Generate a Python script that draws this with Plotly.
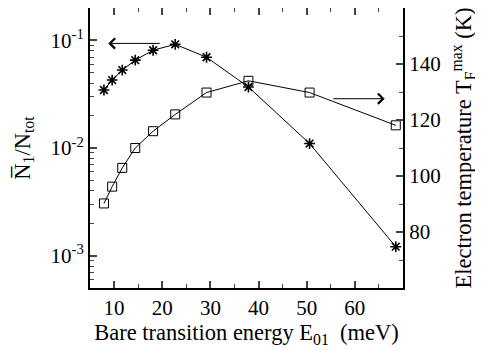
import plotly.graph_objects as go

energy = [7.9, 9.6, 11.7, 14.4, 18.1, 22.7, 29.2, 37.9, 50.6, 68.5]
ratio_n1 = [0.0346, 0.0428, 0.053, 0.0655, 0.081, 0.092, 0.0697, 0.0369, 0.011, 0.00121]
temp_max = [90.2, 96.2, 102.9, 110.0, 116.0, 122.0, 129.8, 134.0, 129.8, 118.1]

log_ticks = [1e-3, 1e-2, 1e-1]
log_ticktext = ["10<sup>-3</sup>", "10<sup>-2</sup>", "10<sup>-1</sup>"]
log_minor = [m * 10.0 ** e for e in (-4, -3, -2, -1) for m in range(2, 10)]

font = "Liberation Serif"
fs = 21
ts = 22.5

fig = go.Figure()
fig.add_trace(go.Scatter(
    x=energy, y=ratio_n1, mode="lines+markers",
    line=dict(color="black", width=1),
    marker=dict(symbol="asterisk-open", size=9, color="black", line=dict(color="black", width=1.6)),
    yaxis="y", showlegend=False))
fig.add_trace(go.Scatter(
    x=energy, y=temp_max, mode="lines+markers",
    line=dict(color="black", width=1),
    marker=dict(symbol="square-open", size=9, color="black", line=dict(color="black", width=1)),
    yaxis="y2", showlegend=False))

fig.update_layout(
    width=483, height=350,
    margin=dict(l=82, r=88, t=0, b=70),
    plot_bgcolor="white", paper_bgcolor="white",
    font=dict(family=font, color="black", size=fs),
    xaxis=dict(range=[5, 70], tickvals=[10, 20, 30, 40, 50, 60], ticks="inside", ticklen=7,
               tickwidth=1.5, linecolor="black", linewidth=2, mirror="ticks", showgrid=False,
               zeroline=False, tickfont=dict(family=font, size=fs), automargin=False,
               minor=dict(dtick=5, tick0=0, ticks="inside", ticklen=4, tickwidth=1.2),
               title=dict(text="Bare transition energy E<sub>01</sub>  (meV)",
                          font=dict(family=font, size=ts), standoff=2)),
    yaxis=dict(type="log", range=[-3.301, -0.699], tickmode="array", tickvals=log_ticks,
               ticktext=log_ticktext, automargin=False,
               ticks="inside", ticklen=7, tickwidth=1.5, linecolor="black", linewidth=2,
               showgrid=False, zeroline=False, tickfont=dict(family=font, size=fs),
               minor=dict(tickmode="array", tickvals=log_minor, ticks="inside", ticklen=4,
                          tickwidth=1.2, showgrid=False),
               title=dict(text="N\u0305<sub>1</sub>/N<sub>tot</sub>",
                          font=dict(family=font, size=ts), standoff=14)),
    yaxis2=dict(overlaying="y", side="right", range=[60, 160], tickvals=[80, 100, 120, 140],
                ticks="inside", ticklen=7, tickwidth=1.5, linecolor="black", linewidth=2,
                showgrid=False, zeroline=False, tickfont=dict(family=font, size=fs),
                automargin=False,
                minor=dict(dtick=10, ticks="inside", ticklen=4, tickwidth=1.2),
                title=dict(text="Electron temperature T<sub>F</sub><sup>max</sup> (K)",
                           font=dict(family=font, size=ts), standoff=16)),
)

fig.add_annotation(x=8.8, y=-1.028, ax=19.8, ay=-1.028, xref="x", yref="y", axref="x", ayref="y",
                   showarrow=True, arrowhead=4, arrowsize=2, arrowwidth=1, arrowcolor="black", text="")
fig.add_annotation(x=66.2, y=127.6, ax=55.2, ay=127.6, xref="x", yref="y2", axref="x", ayref="y2",
                   showarrow=True, arrowhead=4, arrowsize=2, arrowwidth=1, arrowcolor="black", text="")

fig.write_html("out.html")
